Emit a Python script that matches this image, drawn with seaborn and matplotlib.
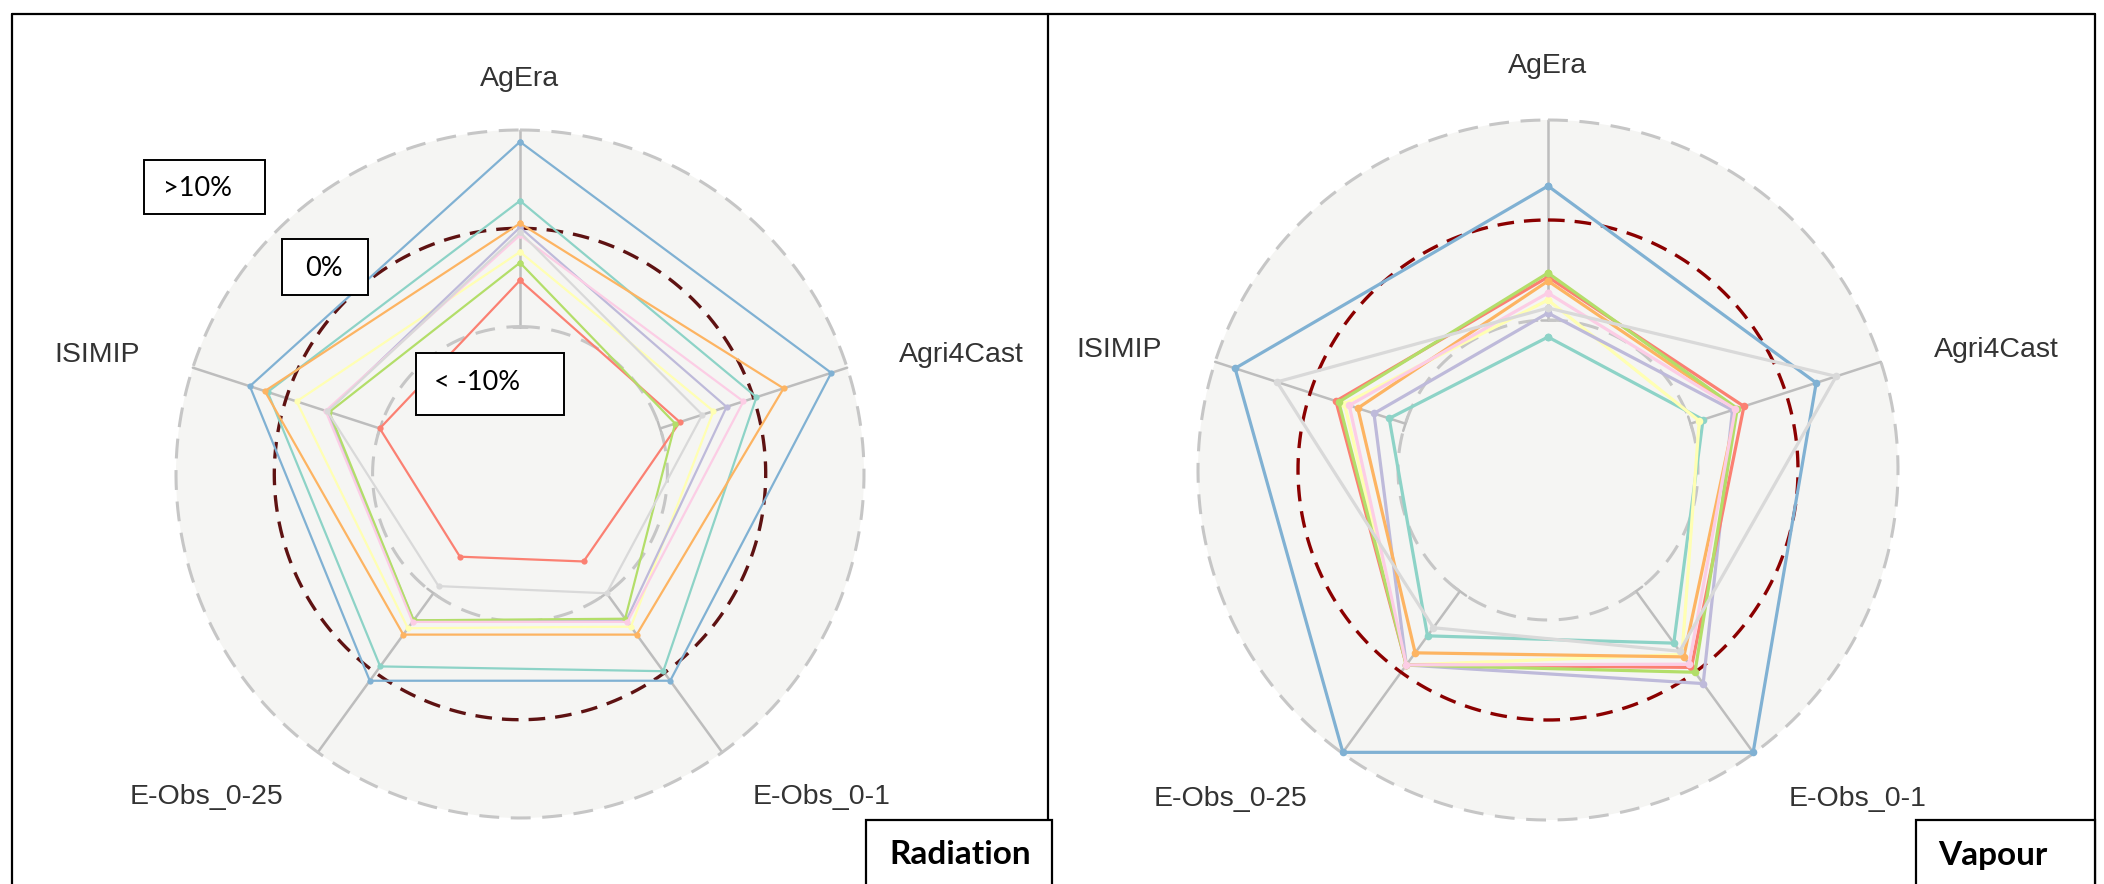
import numpy as np
import pandas as pd
import matplotlib
matplotlib.use("Agg")
import matplotlib.pyplot as plt
from matplotlib.lines import Line2D
from matplotlib.patches import Rectangle
import seaborn as sns

sns.set_theme(style="white")
plt.rcParams['font.family'] = ['Liberation Sans', 'DejaVu Sans']

# ---------------- data ----------------
axis_labels = ["AgEra", "Agri4Cast", "E-Obs_0-1", "E-Obs_0-25", "ISIMIP"]
series_names = ["S1", "S2", "S3", "S4", "S5", "S6", "S7", "S8", "S9"]
# ring levels (% deviation): inner, zero, outer
ring_levels = [-10, 0, 10]
ring_labels = ["< -10%", "0%", ">10%"]
panel_titles = ["Radiation", "Vapour"]

# Radiation panel (values in % along AgEra, Agri4Cast, E-Obs_0-1, E-Obs_0-25, ISIMIP)
rad_s1 = [2.8, 0.3, -0.2, -0.8, 2.0]      # teal
rad_s2 = [-2.4, -4.3, -5.8, -5.6, -1.1]   # yellow
rad_s3 = [0.1, -2.9, -6.6, -6.6, -4.4]    # lavender
rad_s4 = [-5.3, -7.9, -14.0, -14.6, -10.0]  # red
rad_s5 = [8.8, 8.3, 1.0, 1.0, 3.9]        # blue
rad_s6 = [0.5, 3.2, -4.8, -4.8, 2.3]      # orange
rad_s7 = [-3.5, -8.4, -6.8, -6.6, -4.6]   # green
rad_s8 = [-0.7, -1.1, -6.4, -6.4, -4.2]   # pink
rad_s9 = [-0.4, -5.5, -10.0, -10.9, -4.4]  # light gray

# Vapour panel
vap_s1 = [-11.7, -8.7, -3.6, -4.5, -8.3]
vap_s2 = [-8.0, -9.1, -2.2, -0.9, -3.6]
vap_s3 = [-9.3, -5.6, 1.4, -0.9, -6.7]
vap_s4 = [-5.7, -4.4, -0.6, -0.9, -2.7]
vap_s5 = [3.4, 3.2, 9.9, 9.9, 7.9]
vap_s6 = [-6.1, -5.2, -1.9, -2.4, -5.0]
vap_s7 = [-5.3, -5.1, 0.0, -0.9, -3.0]
vap_s8 = [-7.3, -5.3, -1.0, -0.9, -4.1]
vap_s9 = [-8.8, 5.3, -2.6, -5.5, 3.5]

rad_series = [rad_s1, rad_s2, rad_s3, rad_s4, rad_s5, rad_s6, rad_s7, rad_s8, rad_s9]
vap_series = [vap_s1, vap_s2, vap_s3, vap_s4, vap_s5, vap_s6, vap_s7, vap_s8, vap_s9]

palette = sns.color_palette("Set3", 9)

W, H = 2104, 884
fig = plt.figure(figsize=(W / 100, H / 100), dpi=100)
fig.patch.set_facecolor("white")

n = len(axis_labels)
thetas = [2 * np.pi * i / n for i in range(n)]
theta_closed = thetas + [2 * np.pi]


def make_df(series_list):
    rows = []
    for name, vals in zip(series_names, series_list):
        vc = list(vals) + [vals[0]]
        for t, v in zip(theta_closed, vc):
            rows.append({"series": name, "theta": t, "value": v})
    return pd.DataFrame(rows)


def px_rect(cx, cy, R):
    return [(cx - R) / W, (H - cy - R) / H, 2 * R / W, 2 * R / H]


def radar(rect, series_list, lw, ms, zero_color):
    ax = fig.add_axes(rect, projection="polar")
    ax.set_theta_offset(np.pi / 2)
    ax.set_theta_direction(-1)
    ax.set_facecolor("#f5f5f3")
    ax.grid(False)
    ax.spines["polar"].set_visible(False)
    tf = np.linspace(0, 2 * np.pi, 500)
    # spokes
    for t in thetas:
        ax.plot([t, t], [ring_levels[0], ring_levels[2]], color="#bdbdbd", lw=1.8, zorder=1)
        ax.plot([t - 0.05, t + 0.05], [ring_levels[0], ring_levels[0]], color="#bdbdbd", lw=1.8, zorder=1)
    # rings
    ax.plot(tf, np.full_like(tf, ring_levels[0]), color="#c6c6c6", lw=2.2,
            ls=(0, (6.5, 3.8)), zorder=1)
    ax.plot(tf, np.full_like(tf, ring_levels[2]), color="#c6c6c6", lw=2.2,
            ls=(0, (6.5, 3.8)), zorder=1, clip_on=False)
    ax.plot(tf, np.full_like(tf, ring_levels[1]), color=zero_color, lw=2.4,
            ls=(0, (5.0, 3.0)), zorder=2)
    df = make_df(series_list)
    sns.lineplot(data=df, x="theta", y="value", hue="series", palette=palette,
                 sort=False, estimator=None, marker="o", markersize=ms,
                 markeredgewidth=0, linewidth=lw, legend=False, ax=ax, zorder=3)
    for ln in ax.lines:
        ln.set_clip_on(False)
    ax.set_ylim(-25, 10)
    ax.set_xticks([])
    ax.set_yticks([])
    ax.set_xlabel("")
    ax.set_ylabel("")
    return ax


radar(px_rect(520, 474, 344), rad_series, 1.6, 4.5, "#5e1212")
radar(px_rect(1548, 470, 350), vap_series, 2.3, 5.5, "#8b0000")


def fx(px):
    return px / W


def fy(py):
    return 1 - py / H


lab_kw = dict(fontsize=20.5, color="#333333", ha="center", va="center")
left_pos = [(520, 79), (961, 355), (822, 797), (206, 797), (97, 355)]
right_pos = [(1548, 66), (1996, 350), (1858, 799), (1231, 799), (1119, 350)]
for lab, (x, y) in zip(axis_labels, left_pos):
    fig.text(fx(x), fy(y), lab, **lab_kw)
for lab, (x, y) in zip(axis_labels, right_pos):
    fig.text(fx(x), fy(y), lab, **lab_kw)


def line(x0, y0, x1, y1, lw=1.6):
    fig.add_artist(Line2D([fx(x0), fx(x1)], [fy(y0), fy(y1)], color="black", lw=lw,
                          transform=fig.transFigure))


def box(x0, y0, x1, y1, lw=1.6):
    fig.add_artist(Rectangle((fx(x0), fy(y1)), fx(x1) - fx(x0), fy(y0) - fy(y1),
                             transform=fig.transFigure, facecolor="white",
                             edgecolor="black", lw=lw, zorder=5))


# panel frames
line(12, 14, 2095, 14)
line(12, 14, 12, 884)
line(1048, 14, 1048, 820)
line(2095, 14, 2095, 884)

# title boxes
box(866, 820, 1052, 890)
box(1916, 820, 2095, 890)
fig.text(fx(960), fy(855), panel_titles[0], fontsize=24, fontweight="bold",
         family=["Lato", "DejaVu Sans"], ha="center", va="center", color="black", zorder=6)
fig.text(fx(1993), fy(855), panel_titles[1], fontsize=24, fontweight="bold",
         family=["Lato", "DejaVu Sans"], ha="center", va="center", color="black", zorder=6)

# ring annotation boxes
ann = [((144, 160, 265, 214), 163, 189, ring_labels[2]),
       ((282, 239, 368, 295), 305, 268, ring_labels[1]),
       ((416, 353, 564, 415), 434, 383, ring_labels[0])]
for (x0, y0, x1, y1), tx, ty, t in ann:
    box(x0, y0, x1, y1, lw=1.4)
    fig.text(fx(tx), fy(ty), t, fontsize=19.5, family=["Lato", "DejaVu Sans"],
             ha="left", va="center", color="black", zorder=6)

fig.savefig("out.png", dpi=100, facecolor="white")
